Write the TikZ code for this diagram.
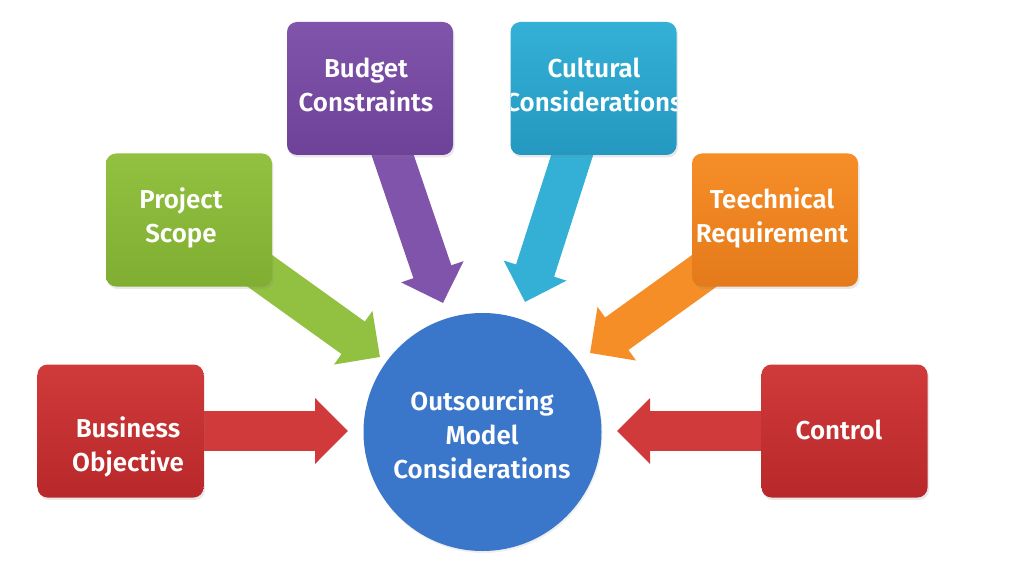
\documentclass[tikz,border=0pt]{standalone}
\usepackage{fontspec}
\newfontfamily\lblfont{Fira Sans}[UprightFont={* SemiBold}]
\usetikzlibrary{arrows.meta,shadows}
\definecolor{cRed}{RGB}{208,58,58}
\definecolor{cRedD}{RGB}{184,40,42}
\definecolor{cGreen}{RGB}{146,192,64}
\definecolor{cGreenD}{RGB}{128,174,50}
\definecolor{cPurple}{RGB}{128,84,170}
\definecolor{cPurpleD}{RGB}{110,66,152}
\definecolor{cTeal}{RGB}{52,176,214}
\definecolor{cTealD}{RGB}{36,152,192}
\definecolor{cOrange}{RGB}{246,142,40}
\definecolor{cOrangeD}{RGB}{228,122,26}
\definecolor{cBlue}{RGB}{58,118,202}
\tikzset{
  box/.style={rounded corners=10bp, minimum width=166bp, minimum height=133bp,
    inner sep=0pt, draw=none, drop shadow={shadow xshift=1.5pt, shadow yshift=-2.5pt, opacity=0.18}},
  lbl/.style={text=white, font=\lblfont\fontsize{26}{34}\selectfont, align=center, inner sep=0pt},
  bigarrow/.style={line width=40bp, -{Triangle[length=33bp,width=64bp]}},
}
\begin{document}
\begin{tikzpicture}[x=1bp,y=-1bp]
\useasboundingbox[fill=white] (0,0) rectangle (1024,585);
% anchor points of the arrow tips
\coordinate (tBO) at (348,431);
\coordinate (tCT) at (617,431);
\coordinate (tPS) at (380,357);
\coordinate (tBC) at (443,303);
\coordinate (tCC) at (525,302);
\coordinate (tTR) at (590,353);
% box positions (centres)
\coordinate (pBO) at (120.5,431);
\coordinate (pPS) at (189,220);
\coordinate (pBC) at (370,88.5);
\coordinate (pCC) at (593.5,88.5);
\coordinate (pTR) at (775,220);
\coordinate (pCT) at (844.5,431);
% arrows (behind boxes)
\draw[bigarrow, cRed] (pBO) -- (tBO);
\draw[bigarrow, cRed] (pCT) -- (tCT);
\draw[bigarrow, cGreen] (pPS) -- (tPS);
\draw[bigarrow, cPurple] (pBC) -- (tBC);
\draw[bigarrow, cTeal] (pCC) -- (tCC);
\draw[bigarrow, cOrange] (pTR) -- (tTR);
% boxes
\node[box, top color=cRed, bottom color=cRedD] (bo) at (pBO) {};
\node[box, top color=cGreen, bottom color=cGreenD] (ps) at (pPS) {};
\node[box, top color=cPurple, bottom color=cPurpleD] (bc) at (pBC) {};
\node[box, top color=cTeal, bottom color=cTealD] (cc) at (pCC) {};
\node[box, top color=cOrange, bottom color=cOrangeD] (tr) at (pTR) {};
\node[box, top color=cRed, bottom color=cRedD] (ct) at (pCT) {};
% centre circle
\node[circle, fill=cBlue, minimum size=238bp, inner sep=0pt,
  drop shadow={shadow xshift=1pt, shadow yshift=-2pt, opacity=0.12}] (om) at (482.5,432) {};
% labels
\node[lbl] (boT) at (128,447) {Business\\Objective};
\node[lbl] (psT) at (181,218) {Project\\Scope};
\node[lbl] (bcT) at (366,85) {Budget\\Constraints};
\begin{scope}
  \clip[rounded corners=10bp] (cc.south west) rectangle (cc.north east);
  \node[lbl] (ccT) at (594,85) {Cultural\\Considerations};
\end{scope}
\node[lbl] (trT) at (772,218) {Teechnical\\Requirement};
\node[lbl] (ctT) at (839,430) {Control};
\node[lbl] (omT) at (482,434) {Outsourcing\\Model\\Considerations};
\end{tikzpicture}
\end{document}
